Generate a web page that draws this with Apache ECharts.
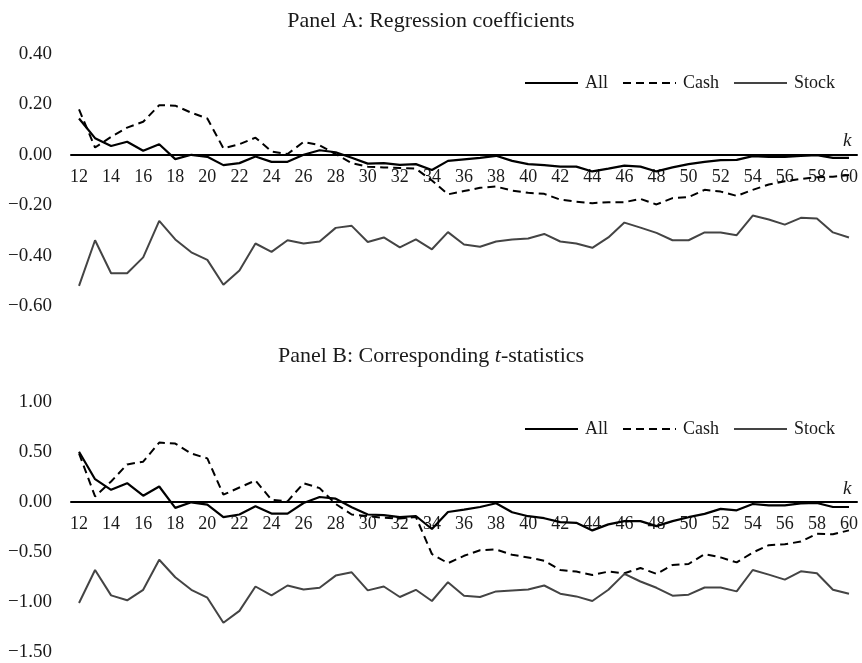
<!DOCTYPE html>
<html>
<head>
<meta charset="utf-8">
<script src="https://cdn.jsdelivr.net/npm/echarts@6/dist/echarts.min.js"></script>
<style>html,body{margin:0;padding:0;background:#fff}#c{width:862px;height:663px}</style>
</head>
<body>
<div id="c"></div>
<script>
var categories = [];
for (var k = 12; k <= 60; k++) categories.push(String(k));

var seriesNames = ['All', 'Cash', 'Stock'];

var coefAll = [0.144,0.066,0.035,0.052,0.016,0.042,-0.017,0.000,-0.008,-0.041,-0.033,-0.007,-0.028,-0.028,0.000,0.018,0.010,-0.012,-0.035,-0.033,-0.040,-0.037,
  -0.060,-0.024,-0.018,-0.012,-0.004,-0.024,-0.037,-0.041,-0.047,-0.047,-0.066,-0.055,-0.043,-0.047,-0.066,-0.050,-0.037,-0.028,-0.021,-0.020,-0.005,-0.008,-0.008,-0.004,-0.001,-0.012,-0.012];
var coefCash = [0.180,0.029,0.071,0.108,0.131,0.197,0.195,0.167,0.144,0.026,0.042,0.068,0.013,0.003,0.051,0.038,0.003,-0.033,-0.047,-0.050,-0.052,-0.055,
  -0.102,-0.157,-0.144,-0.131,-0.126,-0.142,-0.151,-0.155,-0.178,-0.186,-0.192,-0.188,-0.188,-0.175,-0.197,-0.172,-0.168,-0.139,-0.146,-0.163,-0.139,-0.118,-0.105,-0.096,-0.089,-0.087,-0.080];
var coefStock = [-0.520,-0.339,-0.470,-0.470,-0.407,-0.262,-0.336,-0.387,-0.417,-0.516,-0.459,-0.352,-0.385,-0.339,-0.352,-0.344,-0.290,-0.282,-0.346,-0.328,-0.367,-0.336,
  -0.375,-0.307,-0.356,-0.365,-0.344,-0.336,-0.332,-0.314,-0.344,-0.352,-0.369,-0.328,-0.269,-0.289,-0.310,-0.339,-0.339,-0.308,-0.308,-0.319,-0.241,-0.257,-0.277,-0.250,-0.253,-0.308,-0.328];

var tAll = [0.502,0.228,0.122,0.188,0.063,0.155,-0.059,-0.003,-0.026,-0.152,-0.125,-0.043,-0.116,-0.116,-0.010,0.050,0.033,-0.053,-0.125,-0.132,-0.152,-0.140,
  -0.270,-0.100,-0.076,-0.050,-0.013,-0.102,-0.142,-0.162,-0.201,-0.208,-0.284,-0.224,-0.191,-0.191,-0.241,-0.191,-0.152,-0.119,-0.069,-0.083,-0.020,-0.033,-0.033,-0.013,-0.010,-0.050,-0.050];
var tCash = [0.485,0.056,0.205,0.376,0.403,0.594,0.584,0.485,0.436,0.073,0.145,0.215,0.023,0.007,0.188,0.139,-0.020,-0.125,-0.142,-0.158,-0.165,-0.150,
  -0.520,-0.612,-0.538,-0.482,-0.475,-0.528,-0.554,-0.587,-0.680,-0.696,-0.729,-0.696,-0.713,-0.660,-0.719,-0.630,-0.620,-0.521,-0.554,-0.604,-0.505,-0.432,-0.422,-0.396,-0.317,-0.323,-0.284];
var tStock = [-1.010,-0.680,-0.934,-0.983,-0.878,-0.578,-0.752,-0.878,-0.957,-1.208,-1.089,-0.845,-0.934,-0.835,-0.875,-0.858,-0.736,-0.703,-0.884,-0.845,-0.950,-0.878,
  -0.990,-0.802,-0.937,-0.950,-0.894,-0.884,-0.875,-0.835,-0.917,-0.944,-0.990,-0.878,-0.719,-0.795,-0.858,-0.937,-0.927,-0.855,-0.855,-0.894,-0.680,-0.726,-0.776,-0.693,-0.713,-0.878,-0.917];

var panelATitle = 'Panel A: Regression coefficients';
var panelBTitle = 'Panel B: Corresponding {i|t}-statistics';
var xName = 'k';

var FONT = '"Liberation Serif", "Times New Roman", serif';
var TXT = '#1a1a1a';

var gridsCfg = [
  { top: 54, height: 252, min: -0.6, max: 0.4, interval: 0.2 },
  { top: 402, height: 250, min: -1.5, max: 1.0, interval: 0.5 }
];

function fmt(v) {
  var s = Math.abs(v).toFixed(2);
  return (v < -1e-9 ? '\u2212' : '') + s;
}

function xAxisCfg(gi) {
  var g = gridsCfg[gi];
  // place the axis (line + labels) at value 0 of the y axis
  var off = -g.height * (0 - g.min) / (g.max - g.min);
  return {
    type: 'category', gridIndex: gi, data: categories, boundaryGap: true,
    position: 'bottom', offset: off,
    axisLine: { onZero: false, lineStyle: { color: '#000', width: 2 } },
    axisTick: { show: false },
    axisLabel: { interval: 1, margin: 13, fontSize: 18, fontFamily: FONT, color: TXT },
    splitLine: { show: false },
    name: xName, nameLocation: 'end', nameGap: -14,
    nameTextStyle: { fontFamily: FONT, fontStyle: 'italic', fontSize: 19, color: TXT, verticalAlign: 'bottom', align: 'left', padding: [0, 0, 4, 0] }
  };
}
function yAxisCfg(gi) {
  var g = gridsCfg[gi];
  return {
    type: 'value', gridIndex: gi, min: g.min, max: g.max, interval: g.interval,
    axisLine: { show: false }, axisTick: { show: false }, splitLine: { show: false },
    axisLabel: { margin: 19, fontSize: 19, fontFamily: FONT, color: TXT, formatter: fmt }
  };
}
var styles = [
  { color: '#000', width: 2.2, type: 'solid' },
  { color: '#000', width: 2, type: [8, 5] },
  { color: '#444', width: 2, type: 'solid' }
];
function mk(name, idx, data, gi) {
  return {
    name: name, type: 'line', xAxisIndex: gi, yAxisIndex: gi, data: data,
    symbol: 'none', showSymbol: false, animation: false, silent: true,
    lineStyle: styles[idx], itemStyle: { color: styles[idx].color }
  };
}
function legendCfg(top) {
  return {
    data: seriesNames, right: 22, top: top, itemWidth: 53, itemHeight: 14, itemGap: 14,
    itemStyle: { opacity: 0 },
    textStyle: { fontSize: 18, fontFamily: FONT, color: TXT, padding: [0, 0, 0, 2] }
  };
}

var chart = echarts.init(document.getElementById('c'), null, { renderer: 'canvas' });
chart.setOption({
  backgroundColor: '#fff',
  animation: false,
  title: [
    { text: panelATitle, left: 'center', top: 5,
      textStyle: { fontFamily: FONT, fontSize: 22, fontWeight: 'normal', color: TXT } },
    { text: panelBTitle, left: 'center', top: 340,
      textStyle: { fontFamily: FONT, fontSize: 22, fontWeight: 'normal', color: TXT,
        rich: { i: { fontFamily: FONT, fontSize: 22, fontStyle: 'italic', color: TXT } } } }
  ],
  legend: [legendCfg(69), legendCfg(415)],
  grid: gridsCfg.map(function (g) { return { left: 71, right: 5, top: g.top, height: g.height }; }),
  xAxis: [xAxisCfg(0), xAxisCfg(1)],
  yAxis: [yAxisCfg(0), yAxisCfg(1)],
  series: [
    mk(seriesNames[0], 0, coefAll, 0),
    mk(seriesNames[1], 1, coefCash, 0),
    mk(seriesNames[2], 2, coefStock, 0),
    mk(seriesNames[0], 0, tAll, 1),
    mk(seriesNames[1], 1, tCash, 1),
    mk(seriesNames[2], 2, tStock, 1)
  ]
});
</script>
</body>
</html>
